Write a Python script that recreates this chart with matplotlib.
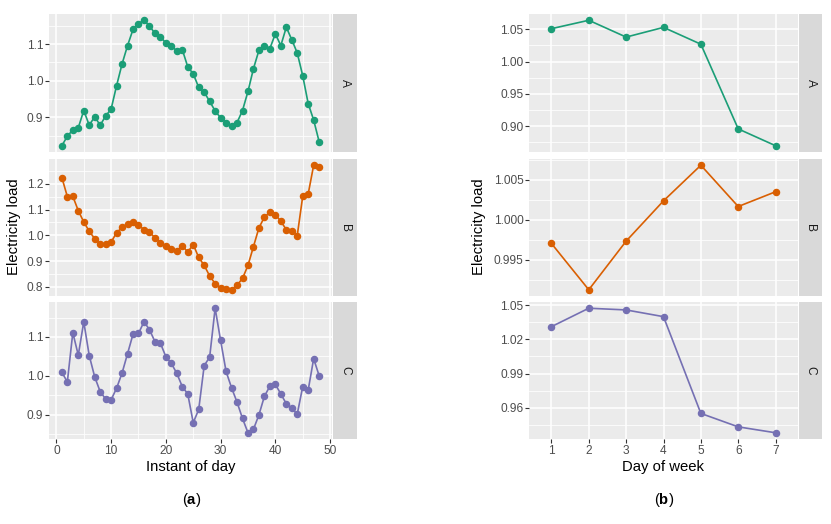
import numpy as np
import matplotlib
matplotlib.use("Agg")
import matplotlib.pyplot as plt

plt.rcParams['font.family'] = ['Liberation Sans', 'DejaVu Sans']
plt.rcParams['mathtext.fontset'] = 'custom'
plt.rcParams['mathtext.rm'] = 'Liberation Sans'
plt.rcParams['mathtext.bf'] = 'Liberation Sans:bold'

# data
instant = np.arange(1, 49)
day = np.arange(1, 8)
groups = ['A', 'B', 'C']

instant_A = [0.823, 0.849, 0.866, 0.872, 0.919, 0.879, 0.902, 0.879, 0.904, 0.923,
             0.987, 1.046, 1.096, 1.140, 1.156, 1.165, 1.150, 1.129, 1.120, 1.103,
             1.096, 1.081, 1.085, 1.038, 1.019, 0.982, 0.969, 0.944, 0.918, 0.899,
             0.886, 0.878, 0.886, 0.919, 0.971, 1.033, 1.083, 1.095, 1.088, 1.128,
             1.096, 1.146, 1.112, 1.076, 1.014, 0.938, 0.893, 0.834]
instant_B = [1.225, 1.151, 1.152, 1.096, 1.052, 1.016, 0.987, 0.966, 0.966, 0.974,
             1.010, 1.031, 1.045, 1.053, 1.042, 1.021, 1.012, 0.991, 0.971, 0.957,
             0.948, 0.940, 0.960, 0.935, 0.964, 0.914, 0.883, 0.842, 0.812, 0.796,
             0.792, 0.788, 0.806, 0.832, 0.883, 0.956, 1.029, 1.071, 1.090, 1.081,
             1.055, 1.022, 1.018, 0.999, 1.152, 1.161, 1.273, 1.265]
instant_C = [1.009, 0.984, 1.111, 1.053, 1.139, 1.052, 0.997, 0.959, 0.940, 0.938,
             0.968, 1.007, 1.057, 1.107, 1.109, 1.139, 1.119, 1.088, 1.084, 1.049,
             1.032, 1.006, 0.972, 0.953, 0.879, 0.913, 1.026, 1.048, 1.174, 1.091,
             1.011, 0.969, 0.932, 0.890, 0.853, 0.862, 0.899, 0.947, 0.973, 0.978,
             0.953, 0.928, 0.916, 0.901, 0.972, 0.963, 1.044, 1.000]

week_A = [1.051, 1.064, 1.038, 1.053, 1.027, 0.896, 0.870]
week_B = [0.99702, 0.99122, 0.99731, 1.00235, 1.00681, 1.00164, 1.00349]
week_C = [1.0312, 1.0474, 1.0459, 1.0400, 0.9550, 0.9432, 0.9380]

left_yticks = [[0.9, 1.0, 1.1], [0.8, 0.9, 1.0, 1.1, 1.2], [0.9, 1.0, 1.1]]
right_yticks = [[0.90, 0.95, 1.00, 1.05], [0.995, 1.000, 1.005], [0.96, 0.99, 1.02, 1.05]]
left_fmt = ['%.1f', '%.1f', '%.1f']
right_fmt = ['%.2f', '%.3f', '%.2f']

colors = ['#1B9E77', '#D95F02', '#7570B3']

W, H = 831, 524
fig = plt.figure(figsize=(W / 100, H / 100), dpi=100)

panel_rows = [(14, 152), (159, 296), (302, 439)]


def px_axes(x0, y0, x1, y1):
    return fig.add_axes([x0 / W, 1 - y1 / H, (x1 - x0) / W, (y1 - y0) / H])


def minor_between(ticks, lo, hi):
    step = ticks[1] - ticks[0]
    ext = [ticks[0] - step] + list(ticks) + [ticks[-1] + step]
    mids = [(a + b) / 2 for a, b in zip(ext[:-1], ext[1:])]
    return [m for m in mids if lo <= m <= hi]


def style_panel(ax, xs, ys, color, yticks, fmt, xticks, xminor, xlim, bottom):
    ax.set_facecolor('#EBEBEB')
    for s in ax.spines.values():
        s.set_visible(False)
    lo, hi = min(ys), max(ys)
    pad = (hi - lo) * 0.05
    ylim = (lo - pad, hi + pad)
    ax.set_ylim(ylim)
    ax.set_xlim(xlim)
    for m in minor_between(yticks, *ylim):
        ax.axhline(m, color='white', lw=0.55, zorder=0)
    for m in xminor:
        ax.axvline(m, color='white', lw=0.55, zorder=0)
    for t in yticks:
        ax.axhline(t, color='white', lw=1.1, zorder=0)
    for t in xticks:
        ax.axvline(t, color='white', lw=1.1, zorder=0)
    ax.set_yticks(yticks)
    ax.set_yticklabels([fmt % t for t in yticks])
    ax.set_xticks(xticks)
    ax.tick_params(axis='both', colors='#333333', labelcolor='#4D4D4D',
                   labelsize=8.6, length=2.6, width=0.8, pad=1.5)
    if bottom:
        ax.set_xticklabels([str(t) for t in xticks])
    else:
        ax.tick_params(axis='x', length=0, labelbottom=False)
    ax.plot(xs, ys, color=color, lw=1.2, marker='o', ms=4.4, zorder=3)


def strip(x0, x1, y0, y1, label):
    sax = px_axes(x0, y0, x1, y1)
    sax.set_facecolor('#D9D9D9')
    sax.set_xticks([])
    sax.set_yticks([])
    for s in sax.spines.values():
        s.set_visible(False)
    sax.text(0.5, 0.5, label, rotation=-90, ha='center', va='center',
             fontsize=8.6, color='#1A1A1A', transform=sax.transAxes)


left_series = [instant_A, instant_B, instant_C]
right_series = [week_A, week_B, week_C]

for i, (y0, y1) in enumerate(panel_rows):
    ax = px_axes(49, y0, 332, y1)
    style_panel(ax, instant, left_series[i], colors[i], left_yticks[i], left_fmt[i],
                [0, 10, 20, 30, 40, 50], [5, 15, 25, 35, 45], (-1.35, 50.35), i == 2)
    strip(333, 357, y0, y1, groups[i])

    ax = px_axes(529, y0, 798, y1)
    style_panel(ax, day, right_series[i], colors[i], right_yticks[i], right_fmt[i],
                list(day), [], (0.4, 7.6), i == 2)
    strip(799, 822, y0, y1, groups[i])

fig.text(14 / W, 1 - 227 / H, 'Electricity load', rotation=90, ha='center', va='center',
         fontsize=10.7)
fig.text(479 / W, 1 - 227 / H, 'Electricity load', rotation=90, ha='center', va='center',
         fontsize=10.7)
fig.text(190.5 / W, 1 - 467 / H, 'Instant of day', ha='center', va='center', fontsize=10.7)
fig.text(663.5 / W, 1 - 467 / H, 'Day of week', ha='center', va='center', fontsize=10.7)
fig.text(192 / W, 1 - 500 / H, r'($\mathbf{a}$)', ha='center', va='center', fontsize=10.7)
fig.text(664 / W, 1 - 500 / H, r'($\mathbf{b}$)', ha='center', va='center', fontsize=10.7)

fig.savefig('out.png', dpi=100, facecolor='white')
